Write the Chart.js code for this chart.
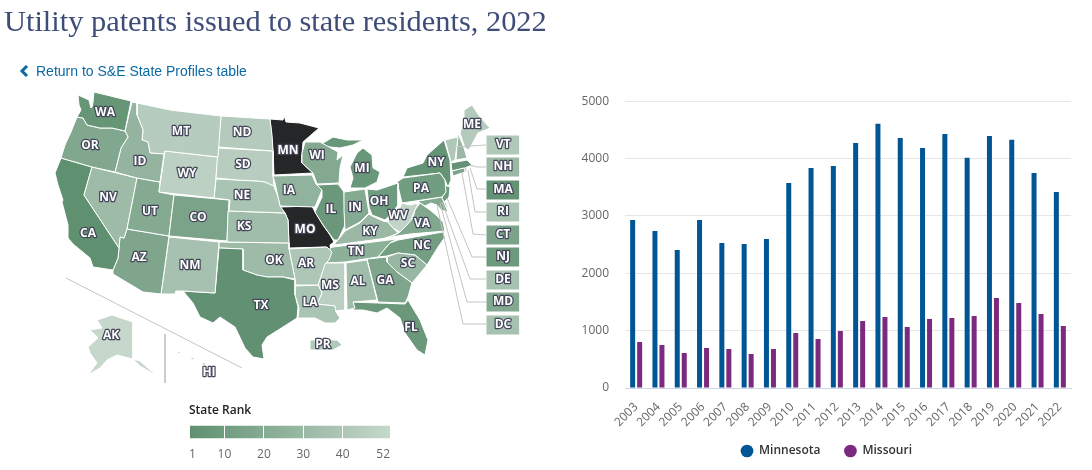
<!DOCTYPE html>
<html>
<head>
<meta charset="utf-8">
<title>Utility patents issued to state residents, 2022</title>
<script src="https://cdn.jsdelivr.net/npm/chart.js@4"></script>
<style>
html, body { margin: 0; padding: 0; background: #fff; width: 1092px; height: 470px; overflow: hidden; }
canvas { position: absolute; }
h1 { position: absolute; left: 4px; top: 3px; margin: 0; font: 400 30.4px/36px "Liberation Serif", serif; color: #3d4d78; white-space: nowrap; z-index: 2; }
a { position: absolute; left: 36px; top: 63px; font: 14px/16px "Liberation Sans", sans-serif; color: #0b69a3; text-decoration: none; white-space: nowrap; z-index: 2; }
svg { position: absolute; left: 19px; top: 65px; z-index: 2; }
</style>
</head>
<body>
<h1>Utility patents issued to state residents, 2022</h1>
<svg width="10" height="12"><path d="M8 1 L3 6 L8 11" fill="none" stroke="#0b69a3" stroke-width="3"/></svg>
<a href="#">Return to S&amp;E State Profiles table</a>
<canvas id="map" width="540" height="400" style="left:0;top:0"></canvas>
<canvas id="rank" width="201" height="70" style="left:189px;top:400px"></canvas>
<canvas id="bars" width="512" height="404" style="left:570px;top:78px"></canvas>
<script>
// bar chart data
const years = ['2003','2004','2005','2006','2007','2008','2009','2010','2011','2012','2013','2014','2015','2016','2017','2018','2019','2020','2021','2022']
const minnesota = [2930,2738,2407,2930,2529,2512,2599,3576,3837,3872,4273,4605,4360,4186,4430,4012,4395,4326,3750,3419]
const missouri = [802,750,610,698,680,593,680,959,855,994,1169,1238,1064,1203,1221,1256,1570,1483,1291,1081]

// map data, outlines in map units
const WA = [[94,92],[131,101],[125,131],[112,128],[100,128],[87,125],[83,118],[77,117],[81,110],[79,105],[78,95],[89,100],[91,108],[92,107],[93,102]]
const OR = [[77,117],[83,118],[87,125],[100,128],[112,128],[125,131],[128,137],[121,148],[115,172],[92,167],[61,158],[65,145],[71,132]]
const ID = [[132,102],[137,103],[137,115],[143,130],[142,140],[148,142],[150,153],[164,154],[160,182],[137,178],[115,172],[121,148],[128,137],[125,131]]
const MT = [[137,103],[170,110],[195,113],[221,116],[218,157],[165,151],[164,154],[150,153],[148,142],[142,140],[143,130],[137,115]]
const ND = [[221,116],[270,119],[272,135],[273,151],[218,147]]
const SD = [[218,148],[273,151],[273,176],[274,186],[265,182],[258,181],[237,180],[216,178]]
const WY = [[165,151],[218,157],[214,198],[159,192]]
const NE = [[216,179],[237,180],[258,181],[265,182],[274,186],[278,197],[280,206],[285,213],[229,211],[230,200],[214,198]]
const KS = [[228,211],[285,213],[288,220],[289,243],[227,242]]
const CO = [[174,195],[229,200],[227,241],[169,236]]
const UT = [[137,178],[160,182],[159,192],[174,195],[169,236],[127,229]]
const NV = [[92,167],[137,178],[127,229],[124,238],[120,237],[119,248],[84,195]]
const CA = [[61,158],[92,167],[84,195],[119,248],[118,258],[113,270],[93,267],[90,258],[73,244],[68,238],[68,225],[62,202],[63,200],[58,185],[55,173]]
const AZ = [[127,229],[169,236],[161,294],[143,292],[113,274],[113,270],[118,258],[119,248],[120,237],[124,238]]
const NM = [[169,237],[219,242],[215,293],[183,291],[176,291],[176,294],[161,294]]
const TX = [[219,248],[243,249],[243,270],[257,275],[267,277],[283,277],[295,280],[295,295],[298,307],[297,318],[283,327],[267,337],[262,345],[264,359],[253,357],[245,348],[235,327],[220,317],[213,323],[200,317],[193,303],[183,291],[215,293]]
const OK = [[219,242],[289,243],[289,249],[295,279],[283,277],[267,277],[257,275],[243,270],[243,249],[219,248]]
const AR = [[289,249],[327,247],[332,252],[329,260],[325,264],[319,282],[318,285],[295,285],[295,279]]
const LA = [[295,286],[318,285],[322,293],[317,304],[335,306],[336,312],[340,318],[335,323],[325,323],[315,318],[298,318],[299,308],[295,295]]
const MS = [[325,263],[345,263],[345,310],[335,311],[335,306],[317,304],[322,293],[318,285]]
const AL = [[346,263],[367,260],[377,300],[353,302],[355,308],[347,310]]
const GA = [[367,259],[387,257],[387,262],[397,272],[412,283],[408,297],[405,303],[378,302]]
const FL = [[353,302],[378,303],[405,304],[408,300],[420,320],[428,340],[425,355],[417,350],[405,333],[400,318],[387,308],[377,313],[363,310],[353,310]]
const SC = [[387,257],[398,253],[415,255],[427,265],[412,283],[397,272],[387,262]]
const NC = [[378,257],[390,243],[398,240],[443,232],[445,237],[438,247],[427,265],[415,255],[398,253],[387,256]]
const TN = [[330,248],[333,247],[397,239],[390,243],[378,257],[345,262],[327,263],[330,253]]
const VA = [[385,238],[410,234],[445,231],[443,222],[436,215],[430,210],[420,203],[415,210],[413,218],[407,225],[400,232],[395,235]]
const WV = [[389,215],[398,212],[402,203],[410,205],[418,203],[413,215],[410,223],[400,232],[393,228],[388,222]]
const KY = [[335,243],[338,240],[345,231],[360,223],[369,214],[372,216],[383,221],[388,222],[393,228],[398,233],[387,238],[335,245]]
const OH = [[367,189],[377,190],[398,183],[398,205],[392,213],[385,220],[372,215],[369,207]]
const IN = [[344,192],[365,189],[369,213],[360,222],[345,230],[344,211]]
const IL = [[317,185],[338,184],[344,192],[345,225],[338,240],[334,240],[323,225],[315,212],[322,197],[322,190]]
const IA = [[273,176],[312,175],[316,184],[322,190],[315,207],[280,206],[275,183]]
const MO = [[280,207],[312,206],[315,212],[323,225],[330,235],[334,242],[330,245],[331,252],[327,252],[326,247],[289,248],[288,220],[285,213]]
const MN = [[270,119],[283,120],[284,115],[286,122],[300,123],[319,128],[303,142],[302,155],[302,163],[313,173],[274,175],[273,152]]
const WI = [[305,142],[320,142],[338,152],[337,160],[343,155],[340,168],[339,183],[317,184],[313,173],[302,163],[302,153]]
const MI = [[350,188],[353,178],[350,167],[357,153],[363,148],[372,155],[373,168],[380,172],[377,182],[365,188]]
const MIupper = [[320,145],[333,137],[347,140],[363,140],[353,145],[340,148],[330,147]]
const PA = [[397,182],[403,178],[440,173],[445,180],[446,192],[442,197],[402,203]]
const NY = [[403,177],[407,168],[423,163],[427,155],[444,140],[450,160],[451,180],[448,187],[445,180],[440,173]]
const NYisland = [[449,185],[462,177],[453,183]]
const NJ = [[445,185],[450,187],[449,197],[444,202],[442,198],[445,192]]
const CT = [[452,171],[464,168],[465,172],[453,176]]
const MA = [[451,163],[467,160],[472,165],[465,168],[452,171]]
const RI = [[464,168],[467,167],[467,172],[465,172]]
const VT = [[445,140],[458,137],[455,160],[451,162]]
const NH = [[458,133],[464,148],[467,158],[456,160]]
const ME = [[464,110],[472,105],[480,117],[490,128],[478,133],[469,150],[465,148],[460,133],[464,120]]
const MD = [[418,201],[442,197],[445,205],[448,212],[441,210],[437,205],[431,203],[425,206],[420,203]]
const DE = [[443,198],[446,203],[448,208],[445,206]]
const DC = [[436,203],[438,204],[437,206]]
const AK = [[97,320],[112,315],[133,322],[133,359],[117,355],[107,360],[100,368],[88,375],[97,363],[90,353],[88,347],[98,338],[90,330],[102,328]]
const AKtail = [[133,359],[140,361],[157,376],[150,372],[140,366]]
const HIa = [[177,351],[181,352],[179,354]]
const HIb = [[190,357],[195,358],[192,360]]
const HIc = [[201,362],[206,363],[204,366]]
const PR = [[310,340],[337,340],[342,345],[333,350],[310,350]]

const stateCodes = ['WA','OR','ID','MT','ND','SD','WY','NE','KS','CO','UT','NV','CA','AZ','NM','TX','OK','AR','LA','MS','AL','GA','FL','SC','NC','TN','VA','WV','KY','OH','IN','IL','IA','WI','MI','PA','NY','NJ','CT','MA','RI','VT','NH','ME','MD','DE','DC','AK','PR','MO','MN']
const stateRanks = [5,18,27,44,43,45,47,38,33,15,20,32,1,17,36,2,32,40,38,46,33,17,7,29,11,24,18,50,30,9,20,7,26,19,6,10,4,8,15,3,38,41,30,43,19,37,36,52,41,0,0]
const stateShapes = [WA,OR,ID,MT,ND,SD,WY,NE,KS,CO,UT,NV,CA,AZ,NM,TX,OK,AR,LA,MS,AL,GA,FL,SC,NC,TN,VA,WV,KY,OH,IN,IL,IA,WI,MI,PA,NY,NJ,CT,MA,RI,VT,NH,ME,MD,DE,DC,AK,PR,MO,MN]
const extraShapes = [MIupper,NYisland,AKtail,HIa,HIb,HIc]
const extraRanks = [6,4,52,48,48,48]

const labelCodes = ['WA','OR','CA','NV','ID','MT','ND','SD','WY','NE','KS','UT','CO','AZ','NM','TX','OK','AR','LA','MS','AL','GA','FL','SC','NC','TN','KY','VA','WV','OH','IN','IL','MI','WI','MN','IA','MO','PA','NY','ME','PR','AK','HI']
const labelX = [105,90,88,108,140,181,242,243,187,242,244,150,198,139,190,261,274,306,310,330,358,385,411,408,422,356,370,422,398,379,355,331,362,317,288,289,305,421,436,472,323,111,209]
const labelY = [113,146,234,198,162,132,133,165,174,196,227,212,218,258,266,306,261,264,303,286,282,281,328,264,246,252,232,224,216,202,208,210,169,156,151,191,230,189,163,125,345,336,373]

const boxCodes = ['VT','NH','MA','RI','CT','NJ','DE','MD','DC']
const boxTops = [135,157,180,202,225,247,270,292,315]
const leaderVT = [[455,147],[486,145]]
const leaderNH = [[470,165],[477,167],[486,167]]
const leaderMA = [[470,168],[477,189],[486,189]]
const leaderRI = [[468,170],[475,212],[486,212]]
const leaderCT = [[462,173],[473,234],[486,235]]
const leaderNJ = [[447,198],[472,257],[486,257]]
const leaderDE = [[442,202],[470,279],[486,279]]
const leaderMD = [[440,203],[467,302],[486,302]]
const leaderDC = [[437,205],[463,324],[486,324]]
const insetDiagonal = [[66,278],[242,368]]
const insetVertical = [[165,334],[165,383]]

const rankTicks = [1,10,20,30,40,52]

const dark = [95,144,112]
const light = [198,215,204]

function rankColor(rank) {
    if (rank === 0) return '#252628'
    let t = (rank - 1) / 51
    let c = dark.map((d, i) => Math.round(d + (light[i] - d) * t))
    return 'rgb(' + c.join(',') + ')'
}

function toPoints(shape) {
    return shape.map(p => ({x: p[0], y: p[1]}))
}

function polygon(shape, rank) {
    let closed = toPoints(shape)
    closed.push(closed[0])
    return {
        data: closed,
        showLine: true,
        fill: 'shape',
        backgroundColor: rankColor(rank),
        borderColor: '#ffffff',
        borderWidth: 1,
        pointRadius: 0
    }
}

function leader(shape) {
    return {
        data: toPoints(shape),
        showLine: true,
        fill: false,
        borderColor: '#c4c4c4',
        borderWidth: 1,
        pointRadius: 0
    }
}

let mapSets = [leaderVT,leaderNH,leaderMA,leaderRI,leaderCT,leaderNJ,leaderDE,leaderMD,leaderDC,insetDiagonal,insetVertical].map(leader)
boxCodes.forEach((code, i) => {
    let rank = stateRanks[stateCodes.indexOf(code)]
    let top = boxTops[i]
    mapSets.push(polygon([[486,top],[520,top],[520,top + 20],[486,top + 20]], rank))
})
stateShapes.forEach((shape, i) => mapSets.push(polygon(shape, stateRanks[i])))
extraShapes.forEach((shape, i) => mapSets.push(polygon(shape, extraRanks[i])))

function drawCode(ctx, text, x, y) {
    ctx.font = '700 12px "Open Sans"'
    ctx.textAlign = 'center'
    ctx.textBaseline = 'middle'
    ctx.lineJoin = 'round'
    ctx.lineWidth = 2.5
    ctx.strokeStyle = '#44465a'
    ctx.strokeText(text, x, y)
    ctx.fillStyle = '#ffffff'
    ctx.fillText(text, x, y)
}

const codeLabels = {
    id: 'codeLabels',
    afterDatasetsDraw(chart) {
        let ctx = chart.ctx
        let sx = chart.scales.x
        let sy = chart.scales.y
        ctx.save()
        labelCodes.forEach((code, i) => {
            drawCode(ctx, code, sx.getPixelForValue(labelX[i]), sy.getPixelForValue(labelY[i]))
        })
        boxCodes.forEach((code, i) => {
            drawCode(ctx, code, sx.getPixelForValue(503), sy.getPixelForValue(boxTops[i] + 10))
        })
        ctx.restore()
    }
}

new Chart(document.getElementById('map'), {
    type: 'scatter',
    data: {datasets: mapSets},
    plugins: [codeLabels],
    options: {
        responsive: false,
        animation: false,
        events: [],
        layout: {padding: 0},
        plugins: {legend: {display: false}, tooltip: {enabled: false}},
        scales: {
            x: {display: false, min: 0, max: 540},
            y: {display: false, min: 0, max: 400, reverse: true}
        }
    }
})

new Chart(document.getElementById('rank'), {
    type: 'bar',
    data: {
        labels: ['rank'],
        datasets: [{
            data: [[rankTicks[0], rankTicks[rankTicks.length - 1]]],
            barThickness: 12,
            backgroundColor: ctx => {
                let area = ctx.chart.chartArea
                if (!area) return rankColor(1)
                let g = ctx.chart.ctx.createLinearGradient(area.left, 0, area.right, 0)
                g.addColorStop(0, rankColor(1))
                g.addColorStop(1, rankColor(52))
                return g
            }
        }]
    },
    options: {
        indexAxis: 'y',
        responsive: false,
        animation: false,
        events: [],
        layout: {padding: 0},
        plugins: {
            legend: {display: false},
            tooltip: {enabled: false},
            title: {
                display: true,
                text: 'State Rank',
                align: 'start',
                color: '#222222',
                font: {family: '"Open Sans"', size: 12, weight: '600'},
                padding: {top: 3, bottom: 7}
            }
        },
        scales: {
            y: {display: false},
            x: {
                min: 1,
                max: 52,
                afterBuildTicks: s => { s.ticks = rankTicks.map(v => ({value: v})) },
                afterFit: s => { s.paddingLeft = 0; s.paddingRight = 0 },
                border: {display: false},
                grid: {color: '#ffffff', z: 1, drawTicks: false},
                ticks: {
                    align: 'inner',
                    maxRotation: 0,
                    padding: 8,
                    color: '#666666',
                    font: {family: '"Open Sans"', size: 12}
                }
            }
        }
    }
})

// the rotated years need room, so the legend is moved up into the scale's box
const moveLegend = {
    id: 'moveLegend',
    afterLayout(chart) {
        chart.legend.top -= 15
        chart.legend.bottom -= 15
        chart.legend.left += 6
        chart.legend.right += 6
    }
}

new Chart(document.getElementById('bars'), {
    type: 'bar',
    data: {
        labels: years,
        datasets: [
            {label: 'Minnesota', data: minnesota, backgroundColor: '#005594'},
            {label: 'Missouri', data: missouri, backgroundColor: '#7b2a7f'}
        ]
    },
    plugins: [moveLegend],
    options: {
        responsive: false,
        animation: false,
        events: [],
        categoryPercentage: 0.628,
        barPercentage: 0.714,
        layout: {padding: {top: 0, right: 11}},
        plugins: {
            tooltip: {enabled: false},
            legend: {
                position: 'bottom',
                labels: {
                    usePointStyle: true,
                    pointStyle: 'circle',
                    boxWidth: 12,
                    boxHeight: 9,
                    padding: 24,
                    color: '#333333',
                    font: {family: '"Open Sans"', size: 12, weight: '600'}
                }
            }
        },
        scales: {
            y: {
                min: 0,
                max: 5000,
                afterFit: s => { s.width = 55 },
                border: {display: false},
                grid: {color: '#e6e6e6', drawTicks: false},
                ticks: {
                    stepSize: 1000,
                    padding: 16,
                    color: '#666666',
                    font: {family: '"Open Sans"', size: 12},
                    callback: v => String(v)
                }
            },
            x: {
                afterFit: s => { s.height = 48 },
                border: {color: '#ccd6eb'},
                grid: {display: false},
                ticks: {
                    autoSkip: false,
                    minRotation: 45,
                    maxRotation: 45,
                    padding: 4,
                    color: '#666666',
                    font: {family: '"Open Sans"', size: 12}
                }
            }
        }
    }
})
</script>
</body>
</html>
